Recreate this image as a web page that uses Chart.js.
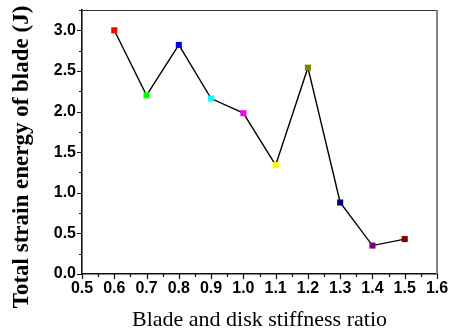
<!DOCTYPE html>
<html>
<head>
<meta charset="utf-8">
<script src="https://cdn.jsdelivr.net/npm/chart.js@4.4.1/dist/chart.umd.min.js"></script>
<style>
html,body{margin:0;padding:0;background:#fff;}
#wrap{width:457px;height:333px;}
</style>
</head>
<body>
<div id="wrap"><canvas id="c" width="457" height="333"></canvas></div>
<script>
const ratios = [0.6, 0.7, 0.8, 0.9, 1.0, 1.1, 1.2, 1.3, 1.4, 1.5];
const strainEnergy = [3.0, 2.2, 2.82, 2.16, 1.98, 1.34, 2.54, 0.88, 0.35, 0.43];
const pointColors = ['#FF0000', '#00FF00', '#0000FF', '#00FFFF', '#FF00FF', '#FFFF00', '#808000', '#000080', '#800080', '#800000'];
const xTitle = 'Blade and disk stiffness ratio';
const yTitle = 'Total strain energy of blade (J)';
const xRange = [0.5, 1.6];
const yRange = [0, 3.25];

const frameTicks = {
  id: 'frameTicks',
  afterDraw(chart) {
    const ctx = chart.ctx;
    const a = chart.chartArea;
    const xs = chart.scales.x, ys = chart.scales.y;
    ctx.save();
    ctx.strokeStyle = '#333';
    ctx.lineWidth = 1.2;
    ctx.beginPath();
    ctx.moveTo(a.left, a.top + 0.5);
    ctx.lineTo(a.right, a.top + 0.5);
    ctx.stroke();
    ctx.strokeStyle = '#777';
    ctx.lineWidth = 1.8;
    ctx.beginPath();
    ctx.moveTo(a.right, a.top);
    ctx.lineTo(a.right, a.bottom);
    ctx.stroke();
    ctx.strokeStyle = '#111';
    ctx.lineWidth = 1.2;
    ctx.beginPath();
    for (let i = 0; i <= 22; i++) {
      const v = xRange[0] + i * 0.05;
      const px = Math.round(xs.getPixelForValue(v)) + 0.5;
      const len = (i % 2 === 0) ? 5 : 3;
      ctx.moveTo(px, a.bottom);
      ctx.lineTo(px, a.bottom + len);
    }
    for (let i = 0; i <= 13; i++) {
      const v = yRange[0] + i * 0.25;
      const py = Math.round(ys.getPixelForValue(v)) + 0.5;
      const len = (i % 2 === 0) ? 5 : 3;
      ctx.moveTo(a.left, py);
      ctx.lineTo(a.left - len, py);
    }
    ctx.stroke();
    ctx.translate(22, 157);
    ctx.rotate(-Math.PI / 2);
    ctx.fillStyle = '#000';
    ctx.font = 'bold 23px "Liberation Serif"';
    ctx.textAlign = 'center';
    ctx.textBaseline = 'middle';
    ctx.fillText(yTitle, 0, 0);
    ctx.restore();
  }
};

function fixPad(s) {
  s.paddingTop = 0; s.paddingBottom = 0; s.paddingLeft = 0; s.paddingRight = 0;
}

new Chart(document.getElementById('c'), {
  type: 'line',
  data: {
    datasets: [{
      data: ratios.map((r, i) => ({x: r, y: strainEnergy[i]})),
      borderColor: '#000',
      borderWidth: 1.4,
      tension: 0,
      pointStyle: 'rect',
      pointRadius: 4.3,
      pointHoverRadius: 4.3,
      pointBorderWidth: 0,
      pointBackgroundColor: pointColors,
      pointBorderColor: pointColors,
      clip: false
    }]
  },
  options: {
    responsive: false,
    animation: false,
    devicePixelRatio: 1,
    layout: {padding: {top: 10, right: 20, left: 0, bottom: 0}},
    plugins: {legend: {display: false}, tooltip: {enabled: false}},
    scales: {
      x: {
        type: 'linear',
        min: xRange[0], max: xRange[1],
        afterFit(s) { s.height = 59; fixPad(s); },
        grid: {display: true, drawOnChartArea: false, drawTicks: false},
        border: {display: true, color: '#111', width: 1.6},
        ticks: {
          stepSize: 0.1,
          includeBounds: false,
          maxRotation: 0,
          autoSkip: false,
          padding: 5,
          color: '#000',
          font: {family: 'Liberation Sans', weight: 'bold', size: 16},
          callback: v => Number(v).toFixed(1)
        },
        title: {
          display: true, text: xTitle, color: '#000',
          font: {family: 'Liberation Serif', size: 22, weight: 'normal'},
          padding: {top: 4, bottom: 0}
        }
      },
      y: {
        type: 'linear',
        min: yRange[0], max: yRange[1],
        afterFit(s) { s.width = 82; fixPad(s); },
        grid: {display: true, drawOnChartArea: false, drawTicks: false},
        border: {display: true, color: '#111', width: 1.6},
        ticks: {
          stepSize: 0.5,
          includeBounds: false,
          padding: 6,
          color: '#000',
          font: {family: 'Liberation Sans', weight: 'bold', size: 16},
          callback: v => Number(v).toFixed(1)
        },
        title: {display: false}
      }
    }
  },
  plugins: [frameTicks]
});
</script>
</body>
</html>
